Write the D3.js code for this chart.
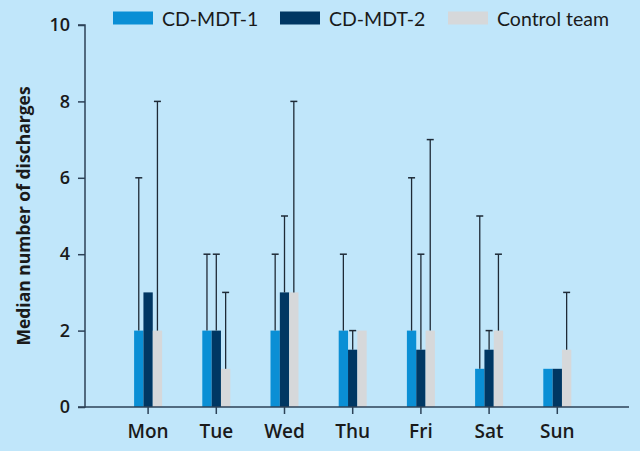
<!DOCTYPE html>
<html><head><meta charset="utf-8">
<script src="https://cdn.jsdelivr.net/npm/d3@7/dist/d3.min.js"></script>
<style>
html,body{margin:0;padding:0;background:#c0e6fa;}
svg{display:block;font-family:Lato,"Open Sans",sans-serif;}
</style></head>
<body><svg id="c" width="640" height="451"></svg>
<script>
const days = ["Mon","Tue","Wed","Thu","Fri","Sat","Sun"];
const seriesNames = ["CD-MDT-1","CD-MDT-2","Control team"];
const cdmdt1 = [2,2,2,2,2,1,1];
const cdmdt2 = [3,2,3,1.5,1.5,1.5,1];
const control = [2,1,3,2,2,2,1.5];
const cdmdt1Upper = [6,4,4,4,6,5,null];
const cdmdt2Upper = [null,4,5,2,4,2,null];
const controlUpper = [8,3,8,null,7,4,3];
const yTicks = [0,2,4,6,8,10];
const colors = ["#0a8fd5","#003763","#d6d8da"];

const values = [cdmdt1, cdmdt2, control];
const uppers = [cdmdt1Upper, cdmdt2Upper, controlUpper];

const svg = d3.select("#c");
const axisColor = "#2c4257";
const x0 = 85, xEnd = 629, yTop = 25, yBottom = 407;

const y = d3.scaleLinear().domain([0,10]).range([yBottom, yTop]);
// category scale: band scale over the plot; group of 3 bars, 28px wide, centered in each band
const x = d3.scaleBand().domain(days).range([x0 + 29, x0 + 29 + 7*68.2]);
const cx = d => x(d) + x.bandwidth()/2;
const xs = d3.scaleBand().domain([0,1,2]).range([-14, 14]);

// bars
values.forEach((arr, s) => {
  svg.append("g").selectAll("rect").data(days).join("rect")
    .attr("x", d => cx(d) + xs(s))
    .attr("width", xs.bandwidth())
    .attr("y", (d,i) => y(arr[i]))
    .attr("height", (d,i) => y(0) - y(arr[i]))
    .attr("fill", colors[s]);
});

// error bars (upper)
uppers.forEach((arr, s) => {
  const g = svg.append("g");
  days.forEach((d,i) => {
    if (arr[i] == null) return;
    const xc = cx(d) + xs(s) + xs.bandwidth()/2;
    g.append("line").attr("x1", xc).attr("x2", xc)
      .attr("y1", y(values[s][i])).attr("y2", y(arr[i]))
      .attr("stroke", "#1e2a36").attr("stroke-width", 1.3);
    g.append("line").attr("x1", xc-3.5).attr("x2", xc+3.5)
      .attr("y1", y(arr[i])).attr("y2", y(arr[i]))
      .attr("stroke", "#1e2a36").attr("stroke-width", 1.5);
  });
});

// y axis
const ya = svg.append("g").attr("transform", `translate(${x0},0)`)
  .call(d3.axisLeft(y).tickValues(yTicks).tickSize(7).tickPadding(8));
ya.select(".domain").attr("stroke", axisColor).attr("stroke-width", 1.5).attr("d", `M-7,${yTop}H0V${yBottom}H-7`);
ya.selectAll(".tick line").attr("stroke", axisColor).attr("stroke-width", 1.5);
ya.selectAll(".tick text").attr("fill", "#1a1a1a").attr("font-size", 18).attr("font-weight", 600)
  .attr("font-family", "'Open Sans',Lato,sans-serif");

// x axis
const xa = svg.append("g").attr("transform", `translate(0,${yBottom})`);
xa.append("line").attr("x1", x0).attr("x2", xEnd).attr("y1", 0).attr("y2", 0)
  .attr("stroke", axisColor).attr("stroke-width", 1.5);
days.forEach(d => {
  xa.append("line").attr("x1", cx(d)).attr("x2", cx(d)).attr("y1", 0).attr("y2", 7)
    .attr("stroke", axisColor).attr("stroke-width", 1.5);
  xa.append("text").attr("x", cx(d)).attr("y", 31).attr("text-anchor", "middle")
    .attr("font-size", 19).attr("font-weight", 600).attr("fill", "#1a1a1a")
    .attr("font-family", "'Open Sans',Lato,sans-serif").text(d);
});

// y title
svg.append("text").attr("transform", `translate(30,${216}) rotate(-90)`)
  .attr("text-anchor", "middle").attr("font-size", 17.5).attr("font-weight", 700)
  .attr("fill", "#1a1a1a").attr("font-family", "'Open Sans',Lato,sans-serif")
  .text("Median number of discharges");

// legend
const legX = [113, 280, 448];
seriesNames.forEach((n, s) => {
  svg.append("rect").attr("x", legX[s]).attr("y", 11.5).attr("width", 40).attr("height", 13).attr("fill", colors[s]);
  svg.append("text").attr("x", legX[s] + 49).attr("y", 26).attr("font-size", 19.5)
    .attr("fill", "#1a1a1a").attr("font-family", "Lato,'Open Sans',sans-serif").text(n);
});
</script></body></html>
